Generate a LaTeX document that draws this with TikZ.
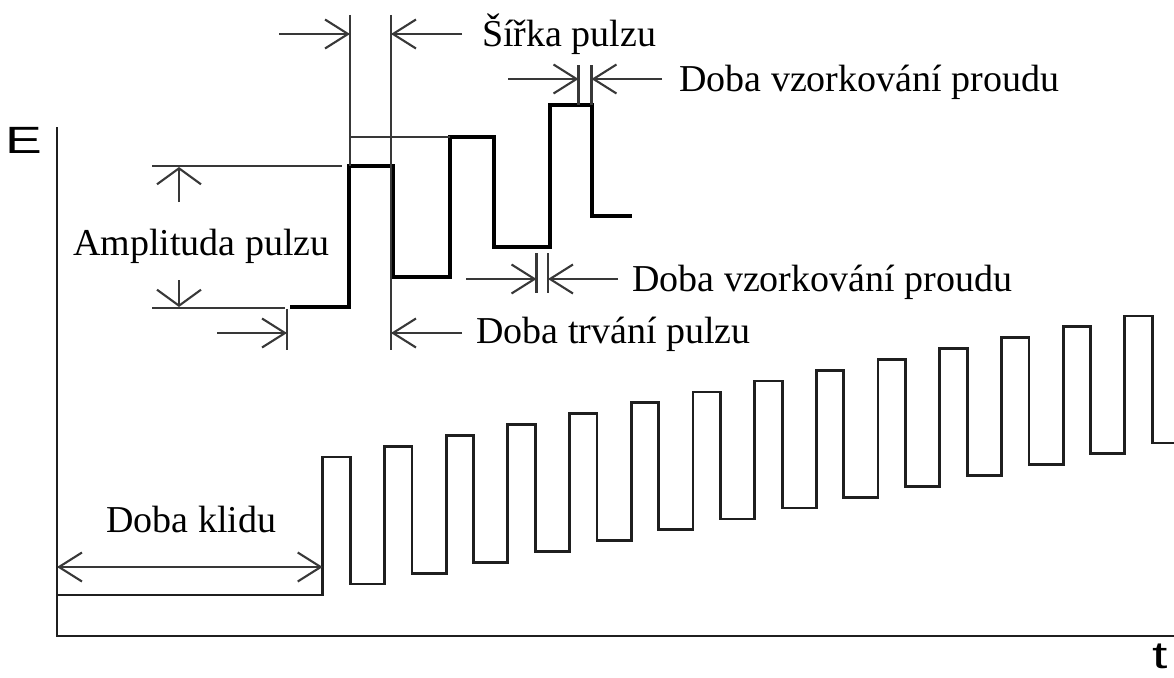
\documentclass[tikz,border=0pt]{standalone}
\usepackage{fontspec}
\setmainfont{Liberation Serif}
\newfontfamily\axisfont{Liberation Sans}
\usetikzlibrary{arrows.meta}
\begin{document}
\begin{tikzpicture}[x=1pt,y=-1pt,
  axisline/.style={line width=2.4pt,draw=black!88},
  wave/.style={line width=2.8pt,draw=black!88,line join=miter},
  boldwave/.style={line width=4.8pt,draw=black,line join=miter},
  dim/.style={line width=2.1pt,draw=black!78},
  harrow/.style={dim,-{Straight Barb[length=23pt,width=29pt]}},
  hdouble/.style={dim,{Straight Barb[length=23pt,width=29pt]}-{Straight Barb[length=23pt,width=29pt]}},
  varrow/.style={dim,-{Straight Barb[length=16pt,width=44pt]}},
  lbl/.style={inner sep=0pt,anchor=base west,font=\fontsize{38}{44}\selectfont},
  axlbl/.style={inner sep=0pt,anchor=base west,font=\axisfont\fontsize{38}{44}\selectfont}]
\useasboundingbox (0,0) rectangle (1174,677);

% axes
\coordinate (o) at (57,636);
\coordinate (ytop) at (57,127);
\coordinate (xend) at (1174,636);
\draw[axisline] (ytop) -- (o) -- (xend);
\node[axlbl] (E) at (5,153) {\scalebox{1.45}[1]{E}};
\node[axlbl] (t) at (1152,668) {\scalebox{1.45}[1]{t}};

% lower waveform
\draw[wave] (57,595) -- (322.7,595)
  \foreach \k in {0,...,13} {
    -- ({322.7+61.7*\k},{457-10.85*\k})
    -- ({350.2+61.7*\k},{457-10.85*\k})
    -- ({350.2+61.7*\k},{584-10.85*\k})
    -- ({min(1174,322.7+61.7*(\k+1))},{584-10.85*\k})
  };

% rest period
\coordinate (kl1) at (57,567);
\coordinate (kl2) at (322.7,567);
\draw[hdouble] (kl1) -- (kl2);
\node[lbl] (klid) at (106,532) {Doba klidu};

% bold pulse detail
\draw[boldwave] (290,307) -- (349,307) -- (349,166) -- (393,166) -- (393,277)
  -- (450,277) -- (450,137) -- (494,137) -- (494,247) -- (550,247)
  -- (550,105) -- (592,105) -- (592,216) -- (632,216);

% extension lines
\draw[dim] (350,15) -- (350,166);
\draw[dim] (391,15) -- (391,350);
\draw[dim] (349,137) -- (450,137);
\draw[dim] (152,166) -- (342,166);
\draw[dim] (152,308) -- (285,308);
\draw[dim] (287,309) -- (287,350);
\draw[dim] (536.5,253) -- (536.5,293);
\draw[dim] (548,253) -- (548,293);
\draw[dim] (578.5,65) -- (578.5,105);
\draw[dim] (591.5,65) -- (591.5,105);

% pulse width
\coordinate (sa1) at (279,34);
\coordinate (sa2) at (462,34);
\draw[harrow] (sa1) -- (350,34);
\draw[harrow] (sa2) -- (391,34);
\node[lbl] (sirka) at (482,47) {Šířka pulzu};

% top sampling time
\coordinate (va1) at (508,79);
\coordinate (va2) at (662,79);
\draw[harrow] (va1) -- (578.5,79);
\draw[harrow] (va2) -- (591.5,79);
\node[lbl] (vz1) at (679,91) {Doba vzorkování proudu};

% bottom sampling time
\coordinate (vb1) at (466,279);
\coordinate (vb2) at (618,279);
\draw[harrow] (vb1) -- (536.5,279);
\draw[harrow] (vb2) -- (548,279);
\node[lbl] (vz2) at (632,291) {Doba vzorkování proudu};

% pulse period
\coordinate (ta1) at (217,333);
\coordinate (ta2) at (462,333);
\draw[harrow] (ta1) -- (287,333);
\draw[harrow] (ta2) -- (391,333);
\node[lbl] (trv) at (476,343) {Doba trvání pulzu};

% amplitude
\coordinate (am1) at (179,202);
\coordinate (am2) at (179,280);
\draw[varrow] (am1) -- (179,167);
\draw[varrow] (am2) -- (179,307);
\node[lbl] (ampl) at (73,255) {Amplituda pulzu};
\end{tikzpicture}
\end{document}
